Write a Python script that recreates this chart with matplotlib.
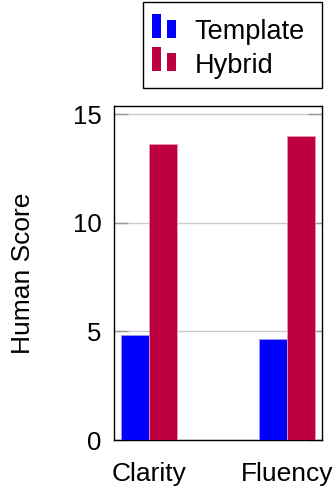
import matplotlib
matplotlib.use("Agg")
import matplotlib.pyplot as plt
from matplotlib.patches import Rectangle
from matplotlib.legend_handler import HandlerBase
import numpy as np

categories = ["Clarity", "Fluency"]
template_scores = [4.83, 4.65]
hybrid_scores = [13.6, 13.97]
series_names = ["Template", "Hybrid"]
yticks = [0, 5, 10, 15]

blue = "#0000FF"
red = "#BF0040"

plt.rcParams['font.family'] = ['Liberation Sans', 'DejaVu Sans']

W, H = 334, 487
fig = plt.figure(figsize=(W/100, H/100), dpi=100)
ax = fig.add_axes([114/W, 1-440/H, 208/W, (440-106)/H])

x = np.arange(len(categories))
w = 0.2
b1 = ax.bar(x - w/2, template_scores, w, color=blue, edgecolor="#9999ff", linewidth=0.6, zorder=3)
b2 = ax.bar(x + w/2, hybrid_scores, w, color=red, edgecolor="#e699b3", linewidth=0.6, zorder=3)

ax.set_xlim(-0.254, 1.254)
ax.set_ylim(0, 15.37)
ax.set_yticks(yticks)
ax.set_xticks(x)
ax.set_xticklabels(categories)
ax.tick_params(axis='x', length=0, labelsize=19, pad=16)
ax.tick_params(axis='y', direction='in', length=10, width=1, color='#999999',
               labelsize=18.5, left=True, right=True, pad=9)
ax.yaxis.grid(True, color='#cccccc', linewidth=1, zorder=0)
ax.set_axisbelow(True)
for s in ax.spines.values():
    s.set_linewidth(1)
    s.set_color('black')
ax.set_ylabel("Human Score", fontsize=19, labelpad=27)

class TwoBarHandler(HandlerBase):
    def create_artists(self, legend, orig_handle, xdescent, ydescent, width, height, fontsize, trans):
        c = orig_handle.get_facecolor()
        bw = 6.5
        y0 = -ydescent + 1.0
        r1 = Rectangle((-xdescent, y0), bw, 17.3, facecolor=c, edgecolor='none', transform=trans)
        r2 = Rectangle((-xdescent + 11.2, y0), bw, 13.0, facecolor=c, edgecolor='none', transform=trans)
        return [r1, r2]

# legend frame drawn separately
frame = Rectangle((143/W, 1-88/H), (322-143)/W, 86/H, transform=fig.transFigure,
                  facecolor='white', edgecolor='black', linewidth=1, zorder=1)
fig.add_artist(frame)

leg = fig.legend([b1[0], b2[0]], series_names, loc='upper left',
                 bbox_to_anchor=(143/W, 1 - 10.5/H), fontsize=19.5,
                 handler_map={type(b1[0]): TwoBarHandler()},
                 handlelength=0.89, handletextpad=0.7, borderpad=0.32,
                 labelspacing=0.28, borderaxespad=0, frameon=False)
leg.set_zorder(2)

fig.savefig("out.png", dpi=100)
